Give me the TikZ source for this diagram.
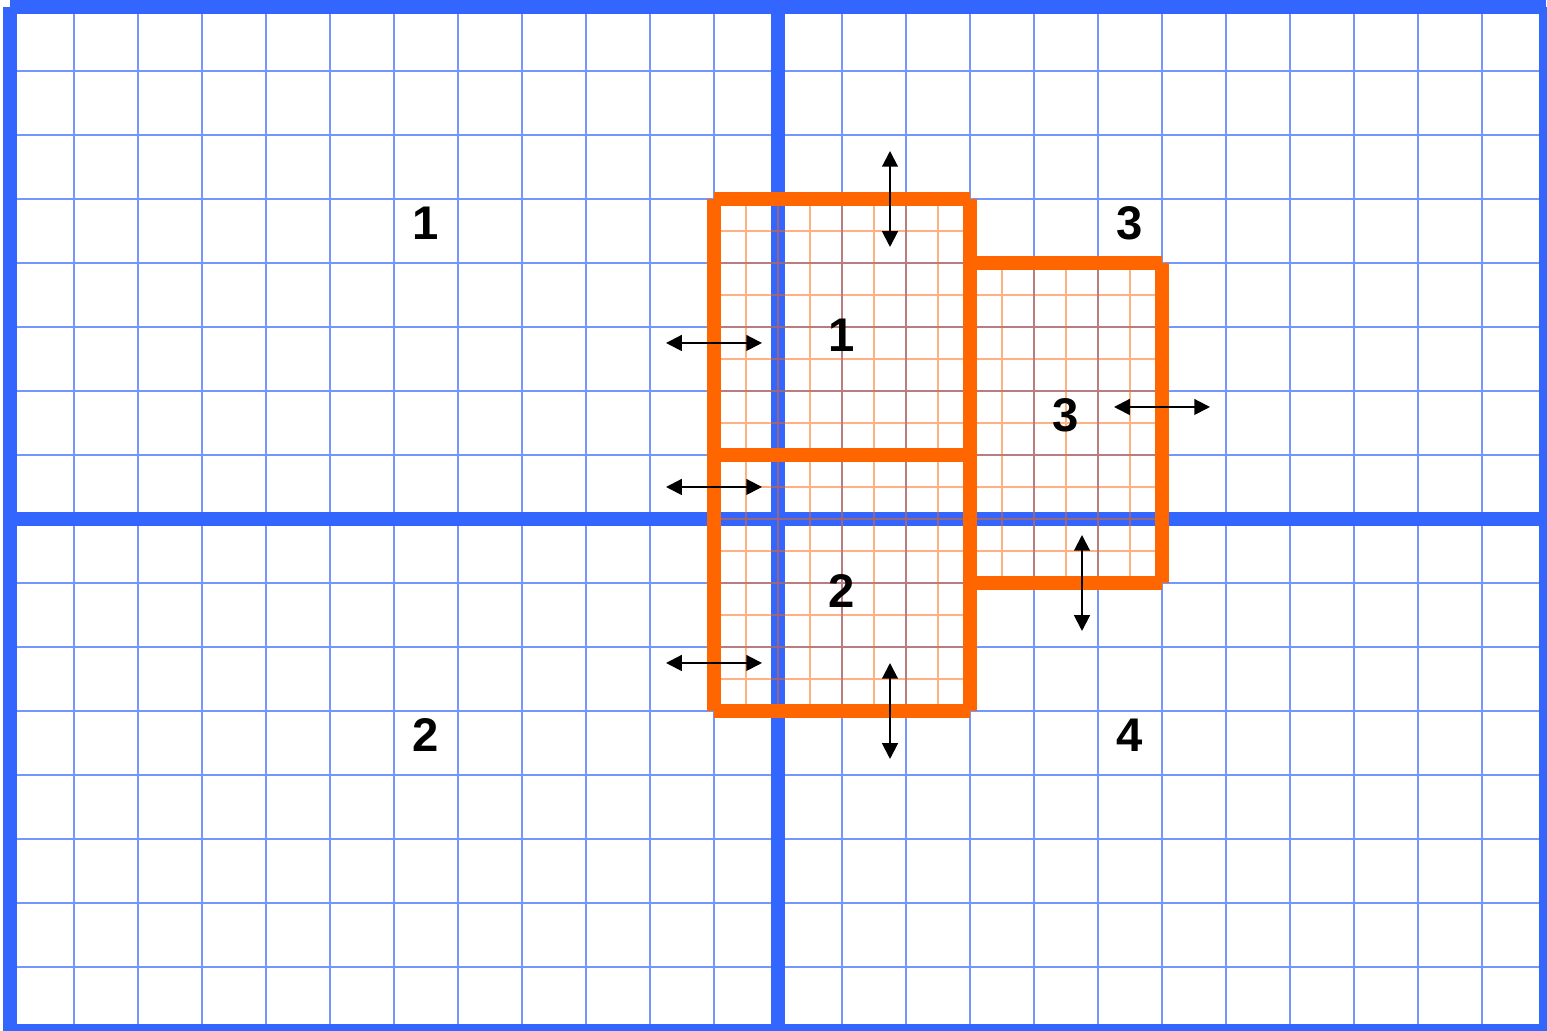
\documentclass[tikz,border=0pt]{standalone}
\usepackage{fontspec}
\setmainfont{Liberation Sans}
\usepackage{tikz}
\usetikzlibrary{arrows.meta}
\definecolor{planblue}{RGB}{51,102,255}
\definecolor{cellblue}{RGB}{118,150,255}
\definecolor{zoneorange}{RGB}{255,102,0}

\begin{document}
\begin{tikzpicture}[
  every node/.style={font=\fontsize{21}{25}\selectfont\bfseries, inner sep=0pt},
  cellgrid/.style={cellblue, line width=0.9pt},
  heavy/.style={planblue, line width=5.8pt, line cap=butt},
  finegrid/.style={zoneorange, line width=0.9pt, opacity=0.5},
  zone/.style={zoneorange, line width=5.8pt, line cap=butt},
  arrow/.style={{Triangle[length=7pt,width=7pt]}-{Triangle[length=7pt,width=7pt]}, line width=0.9pt}]
\useasboundingbox (-0.15625,0) rectangle (24.015625,16.109375);
\clip (-0.15625,0) rectangle (24.015625,16.109375);
\fill[white] (-0.15625,0) rectangle (24.015625,16.109375);
\draw[cellgrid] (0,0) grid (24,16);
\draw[heavy] (0,16) -- (24,16) (24,16) -- (24,0) (24,0) -- (0,0) (0,0) -- (0,16);
\draw[heavy] (12,0) -- (12,16) (0,8) -- (24,8);
\draw[finegrid] (11,5) grid[step=0.5] (15,13);
\draw[finegrid] (15,7) grid[step=0.5] (18,12);
\draw[zone] (11,13) -- (15,13) (15,13) -- (15,5) (15,5) -- (11,5) (11,5) -- (11,13) (11,9) -- (15,9);
\draw[zone] (15,12) -- (18,12) (18,12) -- (18,7) (18,7) -- (15,7);
\draw[arrow] (13.75,13.75) -- (13.75,12.25);
\draw[arrow] (10.25,10.75) -- (11.75,10.75);
\draw[arrow] (10.25,8.5) -- (11.75,8.5);
\draw[arrow] (10.25,5.75) -- (11.75,5.75);
\draw[arrow] (13.75,5.75) -- (13.75,4.25);
\draw[arrow] (17.25,9.75) -- (18.75,9.75);
\draw[arrow] (16.75,7.75) -- (16.75,6.25);
\node (q1) at (6.5,12.625) {1};
\node (q2) at (6.5,4.625) {2};
\node (q3) at (17.5,12.625) {3};
\node (q4) at (17.5,4.625) {4};
\node (z1) at (13,10.875) {1};
\node (z2) at (13,6.875) {2};
\node (z3) at (16.5,9.625) {3};
\end{tikzpicture}
\end{document}
